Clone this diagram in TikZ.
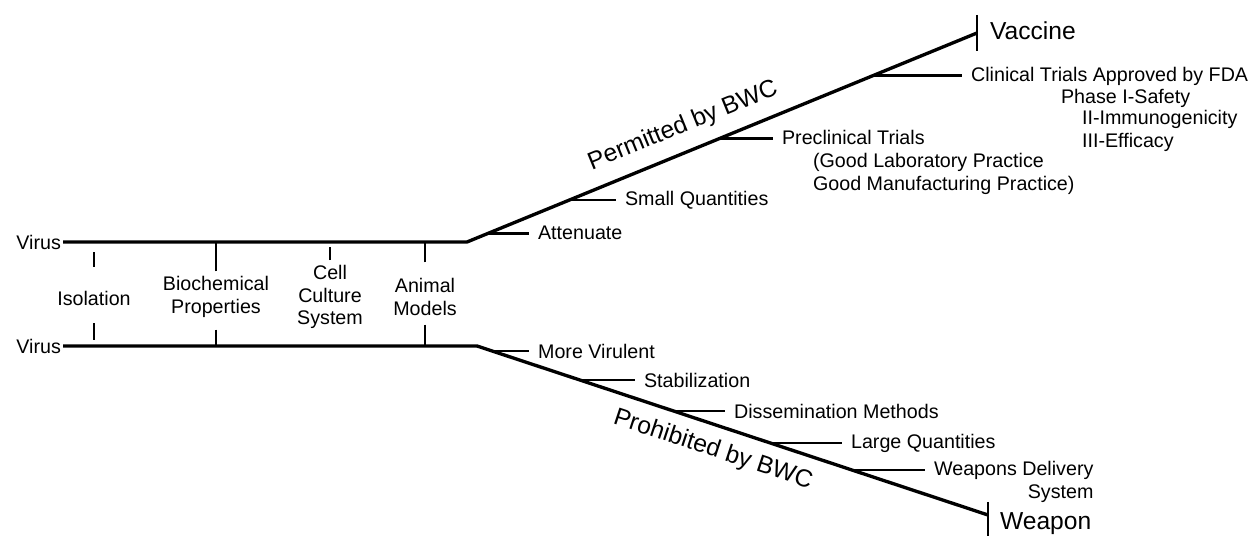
\documentclass[tikz,border=0pt]{standalone}
\usepackage{fontspec}
\setmainfont{Liberation Sans}
\tikzset{
	trunk/.style={black, line width=1.9pt, line join=round},
	stem/.style={black, line width=1.4pt, shorten >=4pt},
	notch/.style={black, line width=1pt},
	endbar/.style={black, line width=1.3pt},
	lbl/.style={anchor=west, inner sep=1pt, align=left, font=\fontsize{11.2}{12.8}\selectfont},
	ctr/.style={inner sep=1pt, align=center, font=\fontsize{11.2}{12.8}\selectfont},
	big/.style={inner sep=1pt, font=\fontsize{14}{16}\selectfont}
}
\begin{document}
\begin{tikzpicture}[x=0.02cm, y=-0.02cm]
		\useasboundingbox (0,0) rectangle (1251,536);
		
		\node[lbl, anchor=east] at (63,242) (virustop) {Virus};
		\node[lbl, anchor=east] at (63,346) (virusbot) {Virus};
		\coordinate (forktop) at (467,242);
		\coordinate (vaccineend) at (977,33);
		\coordinate (forkbot) at (477,346);
		\coordinate (weaponend) at (988,515);
		
		\draw[trunk] (virustop) -- (forktop) -- (vaccineend);
		\draw[trunk] (virusbot) -- (forkbot) -- (weaponend);
		\draw[endbar] (vaccineend) ++(0,-18) -- ++(0,36);
		\draw[endbar] (weaponend) ++(0,-13) -- ++(0,34);
		\node[big, anchor=west] at (988,31) (vaccine) {Vaccine};
		\node[big, anchor=west] at (998,524) (weapon) {Weapon};
		
		\node[big, rotate=22.2] at (683,126) (permitted) {Permitted by BWC};
		\node[big, rotate=-18.3] at (713,450) (prohibited) {Prohibited by BWC};
		
		\path (forktop) -- (vaccineend)
			coordinate[pos=0.04] (attn)
			coordinate[pos=0.2] (smallq)
			coordinate[pos=0.496] (precl)
			coordinate[pos=0.796] (clin);
		\node[lbl] at (536,233) (attenuate) {Attenuate};
		\node[lbl] at (623,200) (smallqty) {Small Quantities};
		\node[lbl] at (780,137) (preclinical) {Preclinical Trials};
		\node[lbl] at (811,174) (goodpractice) {(Good Laboratory Practice\\Good Manufacturing Practice)};
		\node[lbl] at (969,76) (clinical) {Clinical Trials Approved by FDA};
		\node[lbl] at (1059,98) (phaseone) {Phase I-Safety};
		\node[lbl] at (1080,131) (phasetwo) {II-Immunogenicity\\III-Efficacy};
		\draw[stem] (attn) -- (attn -| attenuate.west);
		\draw[stem] (smallq) -- (smallq -| smallqty.west);
		\draw[stem] (precl) -- (precl -| preclinical.west);
		\draw[stem] (clin) -- (clin -| clinical.west);
		
		\path (forkbot) -- (weaponend)
			coordinate[pos=0.03] (virul)
			coordinate[pos=0.2] (stab)
			coordinate[pos=0.384] (dissem)
			coordinate[pos=0.573] (largeq)
			coordinate[pos=0.734] (deliv);
		\node[lbl] at (536,351) (virulent) {More Virulent};
		\node[lbl] at (642,380) (stabil) {Stabilization};
		\node[lbl] at (732,411) (dissemination) {Dissemination Methods};
		\node[lbl] at (849,443) (largeqty) {Large Quantities};
		\node[lbl, align=right] at (932,482) (delivery) {Weapons Delivery\\System};
		\draw[stem] (virul) -- (virul -| virulent.west);
		\draw[stem] (stab) -- (stab -| stabil.west);
		\draw[stem] (dissem) -- (dissem -| dissemination.west);
		\draw[stem] (largeq) -- (largeq -| largeqty.west);
		\draw[stem] (deliv) -- (deliv -| delivery.west);
		
		\node[ctr] at (94,298) (isolation) {Isolation};
		\node[ctr] at (216,297) (biochem) {Biochemical\\Properties};
		\node[ctr] at (330,297) (cellculture) {Cell\\Culture\\System};
		\node[ctr] at (425,297) (animal) {Animal\\Models};
		\draw[notch, shorten <=0.44cm, shorten >=0.2cm] (isolation.north) -- (isolation.north |- forktop);
		\draw[notch, shorten <=0.32cm, shorten >=0.12cm] (isolation.south) -- (isolation.south |- forkbot);
		\draw[notch, shorten <=0.06cm] (biochem.north) -- (biochem.north |- forktop);
		\draw[notch, shorten <=0.2cm] (biochem.south) -- (biochem.south |- forkbot);
		\draw[notch, shorten <=0.06cm, shorten >=0.1cm] (cellculture.north) -- (cellculture.north |- forktop);
		\draw[notch, shorten <=0.28cm] (animal.north) -- (animal.north |- forktop);
		\draw[notch, shorten <=0.14cm] (animal.south) -- (animal.south |- forkbot);
\end{tikzpicture}
\end{document}
